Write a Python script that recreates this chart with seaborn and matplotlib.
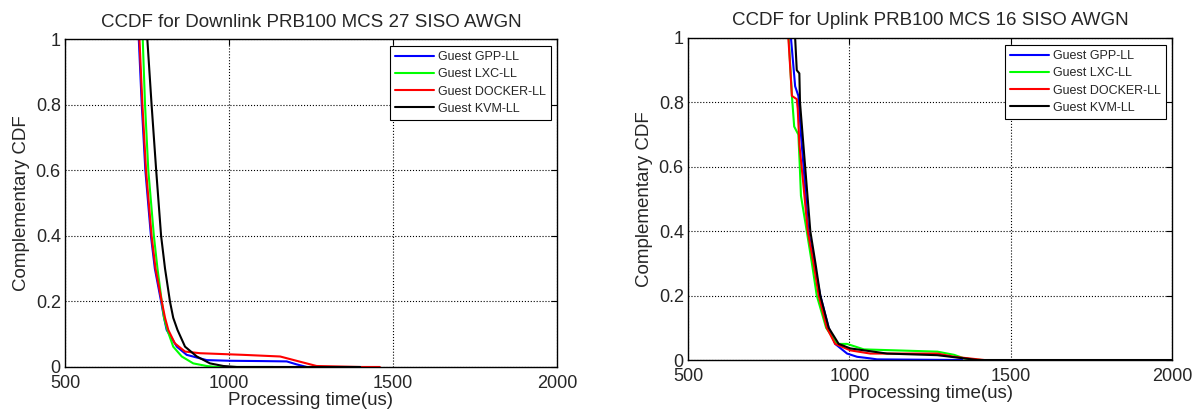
import matplotlib
matplotlib.use("Agg")
import pandas as pd
import matplotlib.pyplot as plt
import seaborn as sns

# Series names and colours (MATLAB style)
SERIES = ["Guest GPP-LL", "Guest LXC-LL", "Guest DOCKER-LL", "Guest KVM-LL"]
COLORS = ["#0000ff", "#00ff00", "#ff0000", "#000000"]

# Downlink PRB100 MCS 27 -- processing time (us) / CCDF
dl_gpp_x = [725, 734, 745, 762, 774, 793, 802, 810, 841, 871, 932, 1000, 1100, 1176, 1206, 1237]
dl_gpp_y = [1.0, 0.80, 0.60, 0.40, 0.30, 0.20, 0.15, 0.113, 0.062, 0.037, 0.021, 0.019, 0.018, 0.017, 0.008, 0.0]
dl_lxc_x = [737, 744, 754, 771, 782, 795, 802, 812, 830, 856, 891, 932, 962, 1135]
dl_lxc_y = [1.0, 0.80, 0.60, 0.40, 0.30, 0.20, 0.15, 0.113, 0.062, 0.032, 0.011, 0.003, 0.0, 0.0]
dl_docker_x = [727, 736, 747, 764, 776, 795, 805, 815, 835, 866, 912, 1044, 1156, 1217, 1267, 1400, 1460]
dl_docker_y = [1.0, 0.80, 0.60, 0.40, 0.30, 0.20, 0.15, 0.113, 0.072, 0.047, 0.042, 0.037, 0.032, 0.016, 0.003, 0.0, 0.0]
dl_kvm_x = [751, 764, 778, 793, 805, 820, 830, 843, 866, 902, 942, 983, 1024, 1400]
dl_kvm_y = [1.0, 0.80, 0.60, 0.40, 0.30, 0.20, 0.15, 0.113, 0.062, 0.032, 0.011, 0.003, 0.0, 0.0]

# Uplink PRB100 MCS 16
ul_gpp_x = [819, 832, 842, 850, 858, 873, 891, 910, 936, 956, 993, 1024, 1065, 1086, 1350]
ul_gpp_y = [1.0, 0.85, 0.82, 0.70, 0.60, 0.40, 0.30, 0.20, 0.10, 0.05, 0.02, 0.01, 0.005, 0.002, 0.0]
ul_lxc_x = [812, 822, 829, 842, 846, 850, 868, 884, 899, 928, 962, 993, 1045, 1273, 1325, 1356, 1408]
ul_lxc_y = [1.0, 0.82, 0.725, 0.70, 0.61, 0.51, 0.40, 0.30, 0.20, 0.10, 0.05, 0.05, 0.033, 0.026, 0.016, 0.005, 0.0]
ul_docker_x = [811, 822, 837, 840, 845, 858, 871, 889, 905, 930, 956, 1003, 1065, 1273, 1325, 1418]
ul_docker_y = [1.0, 0.82, 0.81, 0.78, 0.67, 0.54, 0.40, 0.30, 0.20, 0.10, 0.05, 0.03, 0.02, 0.02, 0.01, 0.0]
ul_kvm_x = [832, 837, 845, 847, 863, 879, 895, 910, 936, 967, 1003, 1117, 1273, 1356, 1397, 2000]
ul_kvm_y = [1.0, 0.90, 0.89, 0.80, 0.60, 0.40, 0.30, 0.20, 0.10, 0.05, 0.036, 0.02, 0.015, 0.005, 0.0, 0.0]

# Axis ticks
X_TICKS = [500, 1000, 1500, 2000]
Y_TICKS = [0, 0.2, 0.4, 0.6, 0.8, 1]
Y_TICK_LABELS = ["0", "0.2", "0.4", "0.6", "0.8", "1"]

TITLES = ["CCDF for Downlink PRB100 MCS 27 SISO AWGN",
          "CCDF for Uplink PRB100 MCS 16 SISO AWGN"]


def make_frame(xs, ys):
    """Stack the four series into one long DataFrame."""
    parts = []
    for name, x, y in zip(SERIES, xs, ys):
        parts.append(pd.DataFrame({"time": x, "ccdf": y, "series": name}))
    return pd.concat(parts, ignore_index=True)


def draw_panel(ax, df, title, legend_anchor):
    sns.lineplot(data=df, x="time", y="ccdf", hue="series",
                 palette=COLORS, hue_order=SERIES,
                 sort=False, estimator=None, linewidth=1.5, ax=ax)

    ax.set_xlim(500, 2000)
    ax.set_ylim(0, 1)
    ax.set_xticks(X_TICKS)
    ax.set_yticks(Y_TICKS)
    ax.set_yticklabels(Y_TICK_LABELS)
    ax.tick_params(direction="in", length=4, width=0.8, labelsize=13,
                   top=True, right=True, color="black", pad=3)
    ax.tick_params(axis="x", pad=6)
    ax.grid(True, linestyle=":", color="black", linewidth=0.8)
    for sp in ax.spines.values():
        sp.set_color("black")
        sp.set_linewidth(1.0)

    ax.set_title(title, fontsize=13.5, pad=9)
    ax.set_xlabel("Processing time(us)", fontsize=13.5, labelpad=0)
    ax.set_ylabel("Complementary CDF", fontsize=13.5, labelpad=4)

    sns.move_legend(ax, "upper right", bbox_to_anchor=legend_anchor,
                    title=None, frameon=True, fancybox=False, framealpha=1,
                    edgecolor="black", fontsize=9, handlelength=3.1,
                    handletextpad=0.35, borderpad=0.4, labelspacing=0.42,
                    borderaxespad=0)
    ax.get_legend().get_frame().set_linewidth(0.8)


def main():
    sns.set_theme(style="white")
    plt.rcParams["font.family"] = ["Liberation Sans", "DejaVu Sans"]

    fig = plt.figure(figsize=(11.97, 4.15), dpi=100)
    ax1 = fig.add_axes([0.0543, 0.1157, 0.411, 0.790])
    ax2 = fig.add_axes([0.5748, 0.1325, 0.4043, 0.776])

    dl = make_frame([dl_gpp_x, dl_lxc_x, dl_docker_x, dl_kvm_x],
                    [dl_gpp_y, dl_lxc_y, dl_docker_y, dl_kvm_y])
    ul = make_frame([ul_gpp_x, ul_lxc_x, ul_docker_x, ul_kvm_x],
                    [ul_gpp_y, ul_lxc_y, ul_docker_y, ul_kvm_y])

    draw_panel(ax1, dl, TITLES[0], (0.988, 0.979))
    draw_panel(ax2, ul, TITLES[1], (0.988, 0.978))

    fig.savefig("out.png", dpi=100, facecolor="white")


if __name__ == "__main__":
    main()
